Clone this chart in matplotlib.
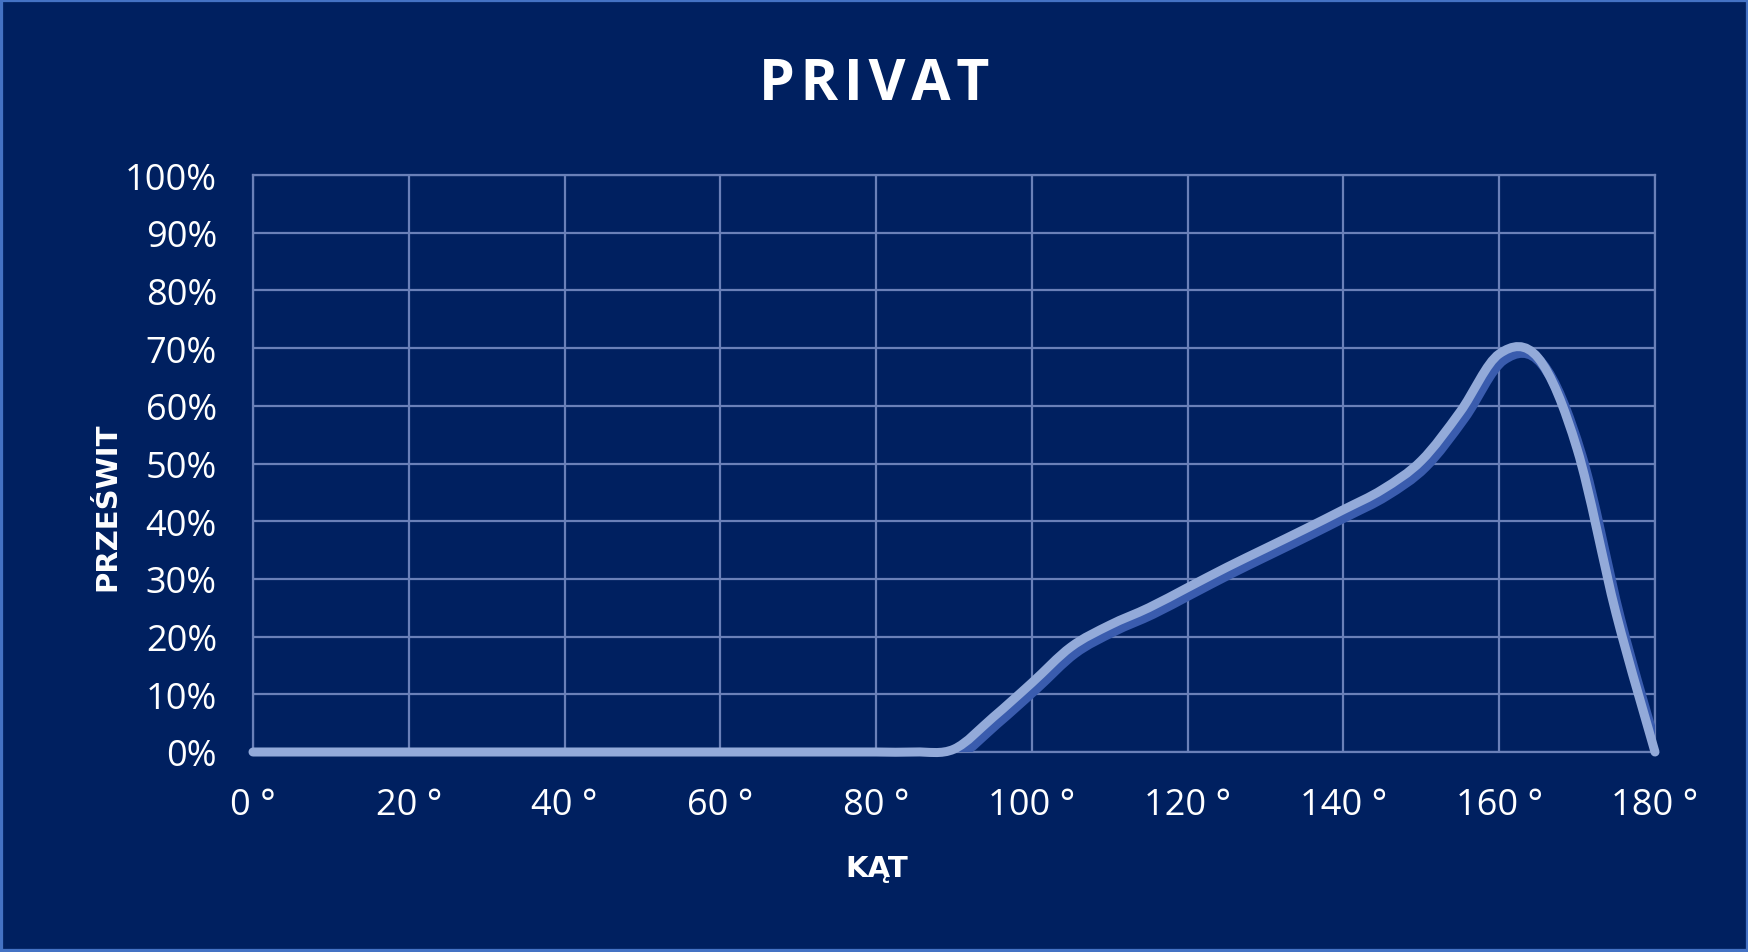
import matplotlib
matplotlib.use("Agg")
import matplotlib.pyplot as plt
import matplotlib.patches as mpatches
import matplotlib.transforms as mtransforms
from matplotlib.path import Path
import numpy as np

# ---- data ----
angles = [0, 5, 10, 15, 20, 25, 30, 35, 40, 45, 50, 55, 60, 65, 70, 75, 80, 85,
          90, 95, 100, 105, 110, 115, 120, 125, 130, 135, 140, 145, 150, 155,
          160, 165, 170, 175, 180]
przeswit = [0, 0, 0, 0, 0, 0, 0, 0, 0, 0, 0, 0, 0, 0, 0, 0, 0, 0,
            0.5, 6.0, 12.0, 18.2, 22.0, 25.0, 28.5, 32.0, 35.3, 38.6, 42.0, 45.5, 50.5, 59.0,
            69.0, 68.3, 52.5, 24.0, 0.0]
x_ticks = [0, 20, 40, 60, 80, 100, 120, 140, 160, 180]
x_tick_labels = [f"{v} °" for v in x_ticks]
y_ticks = [0, 10, 20, 30, 40, 50, 60, 70, 80, 90, 100]
y_tick_labels = [f"{v}%" for v in y_ticks]
title = "PRIVAT"
x_label = "KĄT"
y_label = "PRZEŚWIT"

BG = "#002060"
BORDER = "#4472C4"
GRID = "#6A80B8"
LIGHT = "#93AAD9"
SHADOW = "#3A5CAE"

W, H = 1749, 953
fig = plt.figure(figsize=(W / 100, H / 100), dpi=100, facecolor=BG)
ax = fig.add_axes([253 / W, 1 - 753 / H, (1655 - 253) / W, (753 - 176) / H])
ax.set_facecolor(BG)
ax.set_xlim(0, 180)
ax.set_ylim(0, 100)

ax.set_xticks(x_ticks)
ax.set_xticklabels(x_tick_labels)
ax.set_yticks(y_ticks)
ax.set_yticklabels(y_tick_labels)
ax.tick_params(axis="both", length=0, colors="white", labelsize=26)
ax.tick_params(axis="y", pad=26)
ax.tick_params(axis="x", pad=25)
for lab in ax.get_xticklabels() + ax.get_yticklabels():
    lab.set_family("Open Sans")

ax.grid(True, color=GRID, linewidth=1.6)
ax.set_axisbelow(True)
for sp in ax.spines.values():
    sp.set_color(GRID)
    sp.set_linewidth(1.6)

# Excel-like smoothed line (Catmull-Rom as cubic Bezier)
pts = np.column_stack([angles, przeswit]).astype(float)
n = len(pts)
verts = [tuple(pts[0])]
codes = [Path.MOVETO]
for i in range(n - 1):
    p_prev = pts[i - 1] if i > 0 else pts[i]
    p0 = pts[i]
    p1 = pts[i + 1]
    p_next = pts[i + 2] if i + 2 < n else pts[i + 1]
    c1 = p0 + (p1 - p_prev) / 6.0
    c2 = p1 - (p_next - p0) / 6.0
    verts += [tuple(c1), tuple(c2), tuple(p1)]
    codes += [Path.CURVE4] * 3
path = Path(verts, codes)

shadow_tr = mtransforms.offset_copy(ax.transData, fig=fig, x=4, y=-6, units="dots")
ax.add_patch(mpatches.PathPatch(path, transform=shadow_tr, fill=False, edgecolor=SHADOW,
                                linewidth=7.5, capstyle="round", joinstyle="round", zorder=3))
ax.add_patch(mpatches.PathPatch(path, transform=ax.transData, fill=False, edgecolor=LIGHT,
                                linewidth=6.5, capstyle="round", joinstyle="round", zorder=4,
                                clip_on=False))

fig.text(0.5, 1 - 100 / H, "\u200a".join(title), ha="center", va="baseline", color="white",
         fontsize=41, fontweight="bold", family=["Open Sans", "DejaVu Sans"])
fig.text(877 / W, 1 - 877 / H, x_label, ha="center", va="baseline", color="white",
         fontsize=21, fontweight="bold", family="DejaVu Sans")
fig.text(107 / W, 1 - 507 / H, y_label, ha="center", va="center", rotation=90, color="white",
         fontsize=21, fontweight="bold", family="DejaVu Sans")

fig.patches.append(mpatches.Rectangle((0, 0), 1, 1, transform=fig.transFigure, fill=False,
                                      edgecolor=BORDER, linewidth=4.5, zorder=10))

fig.savefig("out.png", dpi=100, facecolor=BG)
